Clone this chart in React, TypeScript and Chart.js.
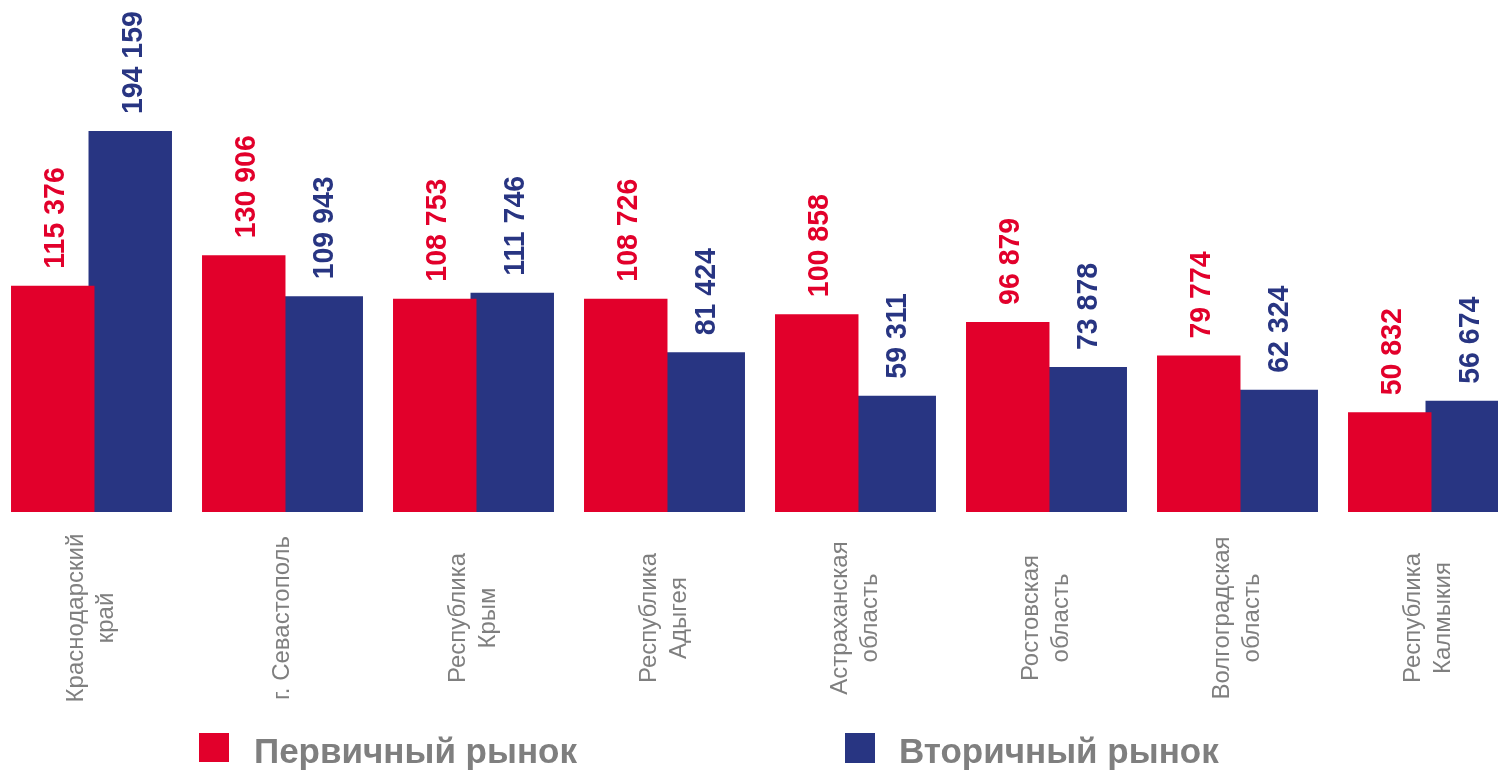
import React, { useEffect, useRef } from "react";
import { Chart, registerables } from "chart.js";

Chart.register(...registerables);

const categories: string[][] = [
  ["Краснодарский", "край"],
  ["г. Севастополь"],
  ["Республика", "Крым"],
  ["Республика", "Адыгея"],
  ["Астраханская", "область"],
  ["Ростовская", "область"],
  ["Волгоградская", "область"],
  ["Республика", "Калмыкия"],
];
const primaryMarket = [115376, 130906, 108753, 108726, 100858, 96879, 79774, 50832];
const secondaryMarket = [194159, 109943, 111746, 81424, 59311, 73878, 62324, 56674];
const seriesNames = ["Первичный рынок", "Вторичный рынок"];

const RED = "#E2002B";
const BLUE = "#283582";
const GRAY = "#7F7F7F";
const FONT = "'Liberation Sans', Arial, sans-serif";

const fmt = (v: number) => String(v).replace(/\B(?=(\d{3})+(?!\d))/g, " ");

const valueLabels = {
  id: "valueLabels",
  afterDatasetsDraw(chart: any) {
    const ctx = chart.ctx;
    chart.data.datasets.forEach((ds: any, di: number) => {
      const meta = chart.getDatasetMeta(di);
      meta.data.forEach((el: any, i: number) => {
        ctx.save();
        ctx.translate(el.x + 3, el.y - 17);
        ctx.rotate(-Math.PI / 2);
        ctx.scale(0.95, 1);
        ctx.font = `bold 30px ${FONT}`;
        ctx.fillStyle = ds.backgroundColor;
        ctx.textAlign = "left";
        ctx.textBaseline = "middle";
        ctx.fillText(fmt(ds.data[i]), 0, 0);
        ctx.restore();
      });
    });
  },
};

const categoryLabels = {
  id: "categoryLabels",
  afterDraw(chart: any) {
    const ctx = chart.ctx;
    const xs = chart.scales.x;
    const lh = 30;
    chart.data.labels.forEach((lbl: string[], i: number) => {
      const x = xs.getPixelForValue(i);
      ctx.save();
      ctx.translate(x, 618);
      ctx.rotate(-Math.PI / 2);
      ctx.font = `24px ${FONT}`;
      ctx.fillStyle = GRAY;
      ctx.textAlign = "center";
      ctx.textBaseline = "middle";
      const n = lbl.length;
      lbl.forEach((line, j) => {
        ctx.fillText(line, 0, (j - (n - 1) / 2) * lh);
      });
      ctx.restore();
    });
  },
};

export default function App() {
  const ref = useRef<HTMLCanvasElement | null>(null);

  useEffect(() => {
    if (!ref.current) return;
    const chart = new Chart(ref.current, {
      type: "bar",
      data: {
        labels: categories,
        datasets: [
          {
            label: seriesNames[0],
            data: primaryMarket,
            backgroundColor: RED,
            borderWidth: 0,
            categoryPercentage: 0.8115,
            barPercentage: 1.077,
          },
          {
            label: seriesNames[1],
            data: secondaryMarket,
            backgroundColor: BLUE,
            borderWidth: 0,
            categoryPercentage: 0.8115,
            barPercentage: 1.077,
          },
        ],
      },
      options: {
        animation: false,
        responsive: false,
        devicePixelRatio: 1,
        layout: { padding: { top: 0, bottom: 262, left: 0, right: 0 } },
        scales: {
          x: { display: false },
          y: { display: false, min: 0, max: 261000 },
        },
        plugins: {
          legend: { display: false },
          tooltip: { enabled: false },
        },
      },
      plugins: [valueLabels, categoryLabels],
    });
    return () => chart.destroy();
  }, []);

  const legendText: React.CSSProperties = {
    position: "absolute",
    top: 734,
    fontFamily: FONT,
    fontWeight: "bold",
    fontSize: 35,
    lineHeight: "34px",
    color: "#7F7F7F",
    whiteSpace: "nowrap",
  };

  return (
    <div
      style={{
        position: "fixed",
        left: 0,
        top: 0,
        width: 1498,
        height: 774,
        overflow: "hidden",
        background: "#ffffff",
      }}
    >
      <canvas
        ref={ref}
        width={1528}
        height={774}
        style={{ position: "absolute", left: -4, top: 0, width: 1528, height: 774 }}
      />
      <div style={{ position: "absolute", left: 199, top: 733, width: 30, height: 29, background: RED }} />
      <div style={{ ...legendText, left: 254 }}>{seriesNames[0]}</div>
      <div style={{ position: "absolute", left: 845, top: 733, width: 30, height: 30, background: BLUE }} />
      <div style={{ ...legendText, left: 899 }}>{seriesNames[1]}</div>
    </div>
  );
}
